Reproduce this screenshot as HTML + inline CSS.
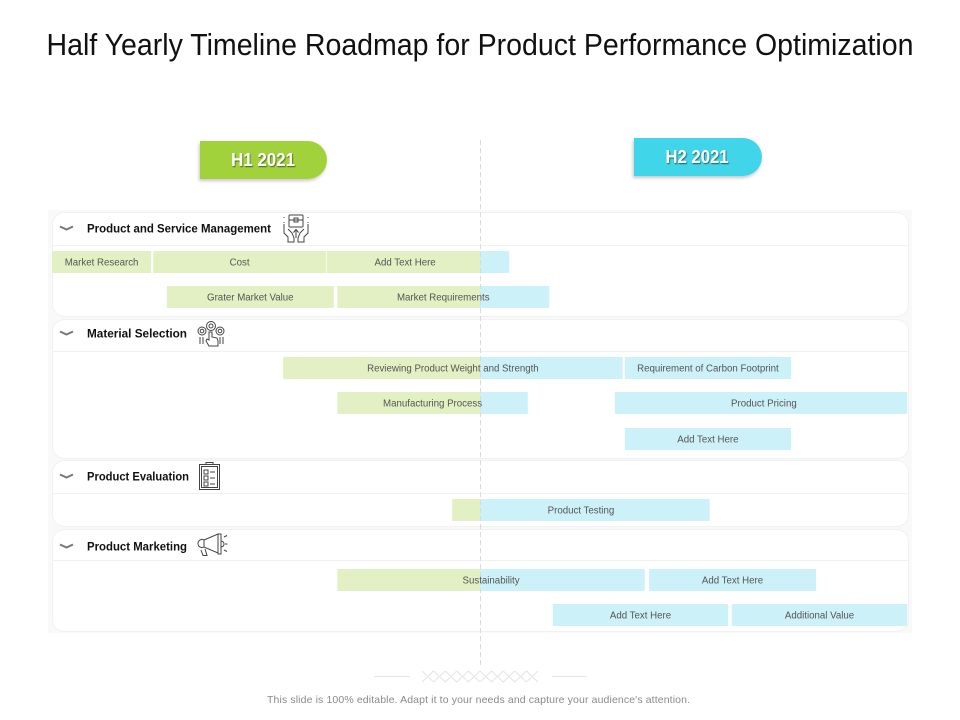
<!DOCTYPE html>
<html lang="en">
<head>
<meta charset="utf-8">
<title>Half Yearly Timeline Roadmap</title>
<style>
html,body{margin:0;padding:0;background:#fff;width:960px;height:720px;overflow:hidden}
svg{display:block}
text{font-family:"Liberation Sans",sans-serif}
</style>
</head>
<body>
<svg id="chart" width="960" height="720" viewBox="0 0 960 720" xmlns="http://www.w3.org/2000/svg">
  <defs>
    <filter id="pill-shadow" x="-20%" y="-30%" width="140%" height="170%">
      <feDropShadow dx="-1" dy="2" stdDeviation="1.5" flood-color="#000" flood-opacity="0.22"/>
    </filter>
    <filter id="text-shadow" x="-20%" y="-30%" width="140%" height="170%">
      <feDropShadow dx="0.8" dy="1" stdDeviation="0.5" flood-color="#000" flood-opacity="0.55"/>
    </filter>
  </defs>

  <text x="480" y="55" text-anchor="middle" font-size="30.500" fill="#111" textLength="867" lengthAdjust="spacingAndGlyphs">Half Yearly Timeline Roadmap for Product Performance Optimization</text>

  <g id="panels"></g>
  <g id="bars"></g>

  <line x1="480.5" y1="140" x2="480.5" y2="665" stroke="#dadada" stroke-width="1" stroke-dasharray="5 3"/>

  <g id="labels"></g>

  <g>
    <path d="M200 141H308a19 19 0 0 1 0 38H200Z" fill="#a2d23a" filter="url(#pill-shadow)"/>
    <text x="263" y="166" text-anchor="middle" font-size="18" font-weight="700" fill="#fff" filter="url(#text-shadow)" textLength="64" lengthAdjust="spacingAndGlyphs">H1 2021</text>
  </g>
  <g>
    <path d="M634 138H743a19 19 0 0 1 0 38H634Z" fill="#3fd5e8" filter="url(#pill-shadow)"/>
    <text x="697" y="163" text-anchor="middle" font-size="18" font-weight="700" fill="#fff" filter="url(#text-shadow)" textLength="63" lengthAdjust="spacingAndGlyphs">H2 2021</text>
  </g>

  <g fill="none" stroke="#444" stroke-width="1">
    <rect x="289" y="215" width="14" height="12" rx="1"/><path d="M289 220H303M294 218h4v4h-4zM296 238v-8M293.500 232.500l2.500-3 2.500 3"/>
    <path d="M284 224v9l4 4v5h6v-4l-2-5-4-4M308 224v9l-4 4v5h-6v-4l2-5 4-4"/>
    <path d="M284 217v2M284 222v1M308 217v2M308 222v1" stroke-dasharray="1 1"/>
  </g>
  <g fill="none" stroke="#444" stroke-width="1">
    <circle cx="211" cy="326" r="4.500"/><circle cx="211" cy="326" r="2"/>
    <circle cx="202" cy="331" r="4"/><circle cx="202" cy="331" r="1.800"/>
    <circle cx="220" cy="331" r="4"/><circle cx="220" cy="331" r="1.800"/>
    <path d="M209 332v8l-2-1-1 2 3 5h9v-5l-1-3-5-1v-5zM200 337v7M203 337v7M220 337v7M223 337v7"/>
  </g>
  <g fill="none" stroke="#444" stroke-width="1">
    <rect x="199.500" y="464.500" width="20" height="25"/><rect x="201.500" y="466.500" width="16" height="21"/><path d="M206 464.500v-2h7v2"/>
    <path d="M204 470h4v4h-4zM204 476h4v4h-4zM204 482h4v4h-4zM210 472h5M210 478h5M210 484h5"/>
  </g>
  <g fill="none" stroke="#444" stroke-width="1">
    <path d="M204 540l14-6v19l-14-6a4 4 0 0 1-6-3.500 4 4 0 0 1 6-3.500zM218 534h3v20h-3zM221 541a3 3 0 0 1 0 6M201 550l2 5.500h4l-2-6.500M204 540v7"/>
    <path d="M224 537l3-1.500M225 544h2.500M224 550l3 1.500"/>
  </g>

  <g stroke="#e4e4e4" stroke-width="1" fill="none">
    <line x1="374" y1="676.500" x2="410" y2="676.500"/>
    <line x1="552" y1="676.500" x2="587" y2="676.500"/>
    <path d="M422 671l11.600 11M433.600 671l-11.600 11M433.600 671l11.600 11M445.200 671l-11.600 11M445.200 671l11.600 11M456.800 671l-11.600 11M456.800 671l11.600 11M468.400 671l-11.600 11M468.400 671l11.600 11M480 671l-11.600 11M480 671l11.600 11M491.600 671l-11.600 11M491.600 671l11.600 11M503.200 671l-11.600 11M503.200 671l11.600 11M514.800 671l-11.600 11M514.800 671l11.600 11M526.400 671l-11.600 11M526.400 671l11.600 11M538 671l-11.600 11"/>
  </g>
  <text x="478.500" y="703" text-anchor="middle" font-size="10.500" fill="#8a8a8a" textLength="423" lengthAdjust="spacing">This slide is 100% editable.  Adapt it to your needs and capture your audience's attention.</text>
</svg>

<script>
// Section names, one per panel
const sections = ["Product and Service Management", "Material Selection", "Product Evaluation", "Product Marketing"];
// Task data: name, owning section, row within section, start and end month of 2021 (0-12)
const taskNames = ["Market Research", "Cost", "Add Text Here", "Grater Market Value", "Market Requirements", "Reviewing Product Weight and Strength", "Requirement of Carbon Footprint", "Manufacturing Process", "Product Pricing", "Add Text Here", "Product Testing", "Sustainability", "Add Text Here", "Add Text Here", "Additional Value"];
const taskSections = [0, 0, 0, 0, 0, 1, 1, 1, 1, 1, 2, 3, 3, 3, 3];
const taskRows = [0, 0, 0, 1, 1, 0, 0, 1, 1, 2, 0, 0, 0, 1, 1];
const taskStarts = [0, 1.42, 3.85, 1.61, 4.0, 3.24, 8.03, 4.0, 7.89, 8.03, 5.61, 4.0, 8.37, 7.02, 9.53];
const taskEnds = [1.39, 3.84, 6.41, 3.95, 6.97, 8.0, 10.36, 6.67, 11.99, 10.36, 9.22, 8.31, 10.71, 9.48, 11.99];
// Month a label is centred on when it is not centred on its bar (null = bar centre)
const taskLabelMonths = [null, null, 4.95, null, null, null, null, null, 9.98, null, null, null, null, null, null];
const midYear = 6;

// Axis functions
const monthMin = 0, monthMax = 12, plotLeft = 52, plotRight = 908;
function xScale(month) {
  return plotLeft + (month - monthMin) / (monthMax - monthMin) * (plotRight - plotLeft);
}
// Layout of each section panel (page geometry, not data)
const panelLayout = [
  {top: 212, bottom: 316, head: 245, title: 232.500, width: 184, rows: [262, 297]},
  {top: 319, bottom: 458, head: 351, title: 337.500, width: 100, rows: [368, 403, 439]},
  {top: 460, bottom: 526, head: 493, title: 480.500, width: 102, rows: [510]},
  {top: 529, bottom: 631, head: 560, title: 550.500, width: 100, rows: [580, 615]}
];
function yScale(section, row) {
  return panelLayout[section].rows[row];
}

const NS = "http://www.w3.org/2000/svg";
function make(tag, attrs, parent) {
  const el = document.createElementNS(NS, tag);
  for (const k in attrs) el.setAttribute(k, attrs[k]);
  parent.appendChild(el);
  return el;
}
const panelsG = document.getElementById("panels");
const barsG = document.getElementById("bars");
const labelsG = document.getElementById("labels");

const backdrop = make("rect", {x: 48, y: 210, width: 864, height: 423, fill: "#f9f9f9"}, panelsG);



sections.forEach(function (name, i) {
  const p = panelLayout[i];
  const card = make("rect", {x: 52.500, y: p.top + 0.500, width: 856, height: p.bottom - p.top, rx: 12, fill: "#fff", stroke: "#f1f1f1"}, panelsG);
  
  
  const rule = make("line", {x1: 53, x2: 908, y1: p.head + 0.500, y2: p.head + 0.500, stroke: "#f1f1f1"}, panelsG);
  
  
  const chev = make("path", {d: "M60 " + (p.title - 6) + "l6.500 3 6.500-3", fill: "none", stroke: "#777", "stroke-width": 2}, panelsG);
  
  
  const title = make("text", {x: 87, y: p.title, "font-size": 12, "font-weight": 700, fill: "#111", textLength: p.width, lengthAdjust: "spacingAndGlyphs"}, panelsG);
  title.textContent = name;
  
  
});

const barHeight = 22;
taskNames.forEach(function (name, i) {
  const x0 = xScale(taskStarts[i]);
  const x1 = xScale(taskEnds[i]);
  const xm = xScale(midYear);
  const y = yScale(taskSections[i], taskRows[i]);
  if (taskStarts[i] < midYear) {
    const g = make("rect", {x: x0, y: y - barHeight / 2, width: Math.min(x1, xm) - x0, height: barHeight, fill: "#e2f0c4"}, barsG);
    
    
  }
  if (taskEnds[i] > midYear) {
    const bx = Math.max(x0, xm);
    const b = make("rect", {x: bx, y: y - barHeight / 2, width: x1 - bx, height: barHeight, fill: "#cdf1f8"}, barsG);
    
    
  }
  const labelX = taskLabelMonths[i] === null ? (x0 + x1) / 2 : xScale(taskLabelMonths[i]);
  const t = make("text", {x: labelX, y: y + 3.500, "text-anchor": "middle", "font-size": 9.700, fill: "#555"}, labelsG);
  t.textContent = name;
  
  
});
</script>
</body>
</html>
